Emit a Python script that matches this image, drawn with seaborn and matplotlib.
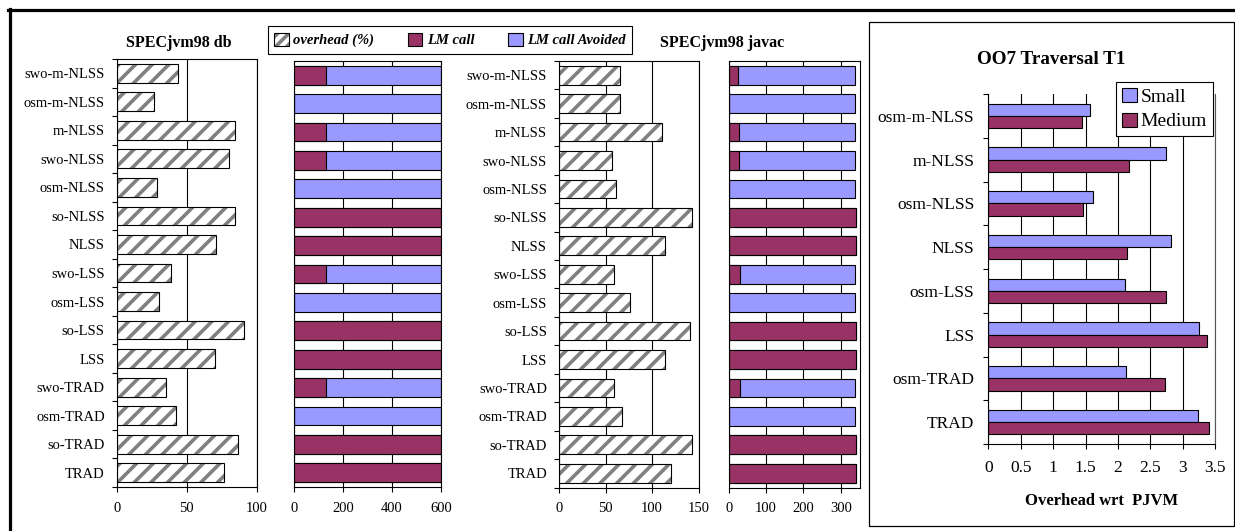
import matplotlib
matplotlib.use("Agg")
import matplotlib.pyplot as plt
from matplotlib.patches import Patch, Rectangle
from matplotlib.lines import Line2D
import seaborn as sns
import numpy as np
import pandas as pd

# 数据
cats = ['swo-m-NLSS', 'osm-m-NLSS', 'm-NLSS', 'swo-NLSS', 'osm-NLSS', 'so-NLSS', 'NLSS',
        'swo-LSS', 'osm-LSS', 'so-LSS', 'LSS', 'swo-TRAD', 'osm-TRAD', 'so-TRAD', 'TRAD']

db_overhead = [43.6, 26.9, 84.5, 80, 29, 84.5, 71, 39, 30.2, 91, 70.5, 35.4, 42.6, 86.7, 76.9]
db_lm_call = [130, 0, 130, 130, 0, 600, 600, 130, 0, 600, 600, 130, 0, 600, 600]
db_lm_avoided = [468, 598, 468, 468, 598, 0, 0, 468, 598, 0, 0, 468, 598, 0, 0]

javac_overhead = [65.8, 65.8, 110.3, 57.3, 61.6, 143.2, 114.2, 59.4, 75.9, 141, 114.2, 59.4, 67.7, 143.2, 120.6]
javac_lm_call = [24, 0, 27, 27, 0, 340, 340, 29, 0, 340, 340, 29, 0, 340, 340]
javac_lm_avoided = [314, 338, 311, 311, 338, 0, 0, 309, 338, 0, 0, 309, 338, 0, 0]

oo7_cats = ['osm-m-NLSS', 'm-NLSS', 'osm-NLSS', 'NLSS', 'osm-LSS', 'LSS', 'osm-TRAD', 'TRAD']
oo7_small = [1.57, 2.74, 1.62, 2.82, 2.11, 3.25, 2.12, 3.24]
oo7_medium = [1.45, 2.17, 1.46, 2.14, 2.74, 3.37, 2.73, 3.40]

PURPLE = '#993366'
BLUE = '#9999FF'
HATCH_GRAY = '#808080'

plt.rcParams['font.family'] = ['Liberation Serif', 'DejaVu Serif']
plt.rcParams['hatch.linewidth'] = 2.6

W, H = 1235, 531
fig = plt.figure(figsize=(W / 100, H / 100), dpi=100)


def rect(x0, y0, x1, y1):
    return [x0 / W, 1 - y1 / H, (x1 - x0) / W, (y1 - y0) / H]


def style_axes(ax, n, xlim, xticks, show_labels=True, fs=10.5, ypad=8.6, xpad=7):
    ax.set_xlim(*xlim)
    ax.set_xticks(xticks)
    ax.set_xlabel('')
    ax.set_ylabel('')
    ax.set_axisbelow(True)
    ax.xaxis.grid(True, color='black', linewidth=0.8)
    for s in ax.spines.values():
        s.set_color('black')
        s.set_linewidth(0.8)
    ax.tick_params(axis='x', direction='out', length=3.6, width=0.8, labelsize=fs, pad=xpad)
    ax.tick_params(axis='y', which='major', length=0, labelsize=fs, pad=ypad)
    if show_labels:
        ax.set_yticks(np.arange(-0.5, n), minor=True)
        ax.tick_params(axis='y', which='minor', direction='out', length=3.6, width=0.8)
    else:
        ax.set_yticklabels([])


def hatched(ax, vals):
    sns.barplot(x=vals, y=cats, orient='h', color='white', hatch='//', edgecolor=HATCH_GRAY,
                linewidth=0, width=0.66, saturation=1, ax=ax)
    sns.barplot(x=vals, y=cats, orient='h', color='black', fill=False,
                linewidth=0.8, width=0.66, ax=ax)


def stacked(ax, call, avoided):
    total = [a + b for a, b in zip(call, avoided)]
    sns.barplot(x=total, y=cats, orient='h', color=BLUE, edgecolor='black',
                linewidth=0.8, width=0.66, saturation=1, ax=ax)
    sns.barplot(x=call, y=cats, orient='h', color=PURPLE, edgecolor='black',
                linewidth=0.8, width=0.66, saturation=1, ax=ax)


# SPECjvm98 db
ax1 = fig.add_axes(rect(116.7, 59, 256.7, 487))
hatched(ax1, db_overhead)
style_axes(ax1, len(cats), (0, 100), [0, 50, 100])

ax2 = fig.add_axes(rect(293.7, 61, 441.3, 487))
stacked(ax2, db_lm_call, db_lm_avoided)
style_axes(ax2, len(cats), (0, 600), [0, 200, 400, 600], show_labels=False)

# SPECjvm98 javac
ax3 = fig.add_axes(rect(559, 61, 698.7, 487.5))
hatched(ax3, javac_overhead)
style_axes(ax3, len(cats), (0, 150), [0, 50, 100, 150])

ax4 = fig.add_axes(rect(728.7, 61, 859.5, 487.5))
stacked(ax4, javac_lm_call, javac_lm_avoided)
style_axes(ax4, len(cats), (0, 350), [0, 100, 200, 300], show_labels=False)

fig.text(178.5 / W, 1 - 42.5 / H, 'SPECjvm98 db', ha='center', va='center',
         fontsize=11.5, fontweight='bold')
fig.text(722 / W, 1 - 42.5 / H, 'SPECjvm98 javac', ha='center', va='center',
         fontsize=11.5, fontweight='bold')

# 图例
h_hatch = (Patch(facecolor='white', edgecolor=HATCH_GRAY, hatch='///', linewidth=0),
           Patch(facecolor='none', edgecolor='black', linewidth=0.8))
h_call = Patch(facecolor=PURPLE, edgecolor='black', linewidth=0.8)
h_avoid = Patch(facecolor=BLUE, edgecolor='black', linewidth=0.8)
leg = fig.legend([h_hatch, h_call, h_avoid], ['overhead (%)', 'LM call', 'LM call Avoided'],
                 loc='center', bbox_to_anchor=(450 / W, 1 - 40 / H), ncol=3,
                 prop={'weight': 'bold', 'style': 'italic', 'size': 10.5},
                 handlelength=1.0, handleheight=1.0, handletextpad=0.3, columnspacing=2.3,
                 borderpad=0.45, fancybox=False, edgecolor='black', framealpha=1)
leg.get_frame().set_linewidth(0.8)

# OO7 Traversal T1
df = pd.DataFrame({
    'cat': oo7_cats * 2,
    'value': oo7_small + oo7_medium,
    'size': ['Small'] * len(oo7_cats) + ['Medium'] * len(oo7_cats),
})
ax5 = fig.add_axes(rect(988.3, 94, 1215.3, 444))
sns.barplot(data=df, x='value', y='cat', hue='size', hue_order=['Small', 'Medium'],
            palette=[BLUE, PURPLE], orient='h', width=0.56, saturation=1,
            edgecolor='black', linewidth=0.8, legend=False, ax=ax5)
style_axes(ax5, len(oo7_cats), (0, 3.5), np.arange(0, 3.51, 0.5), fs=12.5, ypad=10, xpad=8)
ax5.set_xticklabels(['0', '0.5', '1', '1.5', '2', '2.5', '3', '3.5'])
ax5.spines['top'].set_visible(False)
ax5.spines['right'].set_color('#555555')
leg5 = ax5.legend([Patch(facecolor=BLUE, edgecolor='black', linewidth=0.8),
                   Patch(facecolor=PURPLE, edgecolor='black', linewidth=0.8)],
                  ['Small', 'Medium'], loc='upper right',
                  bbox_to_anchor=(1213 / W, 1 - 82 / H), bbox_transform=fig.transFigure,
                  prop={'size': 14}, handlelength=0.75, handleheight=0.75,
                  handletextpad=0.2, labelspacing=0.35, borderpad=0.3,
                  borderaxespad=0, fancybox=False, edgecolor='black', framealpha=1)
leg5.get_frame().set_linewidth(0.8)

fig.text(1051 / W, 1 - 59 / H, 'OO7 Traversal T1', ha='center', va='center',
         fontsize=13.8, fontweight='bold')
fig.text(1102 / W, 1 - 501 / H, 'Overhead wrt  PJVM', ha='center', va='center',
         fontsize=12, fontweight='bold')

# 外框
fig.add_artist(Rectangle((869 / W, 1 - 526 / H), (1234 - 869) / W, (526 - 22) / H,
                         transform=fig.transFigure, fill=False, edgecolor='black', linewidth=0.9))
fig.add_artist(Line2D([8 / W, 1], [1 - 10 / H, 1 - 10 / H], transform=fig.transFigure,
                      color='black', linewidth=2.3))
fig.add_artist(Line2D([9.5 / W, 9.5 / W], [0, 1 - 9 / H], transform=fig.transFigure,
                      color='black', linewidth=2.3))

fig.savefig('out.png', dpi=100)
